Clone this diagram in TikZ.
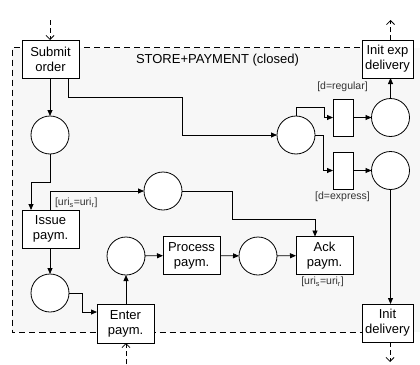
\documentclass[tikz,border=0pt]{standalone}
\usepackage{fontspec}
\setmainfont{Liberation Sans}
\usetikzlibrary{arrows.meta,calc}
\definecolor{netbg}{HTML}{F7F7F7}
\definecolor{guardgray}{HTML}{333333}
\begin{document}
\begin{tikzpicture}[x=1pt,y=-1pt,
  every node/.style={inner sep=0pt, outer sep=0pt},
  taskbox/.style={draw, fill=white, line width=0.8pt, minimum width=57pt,
    minimum height=38pt, align=center, font=\fontsize{13}{15}\selectfont},
  ioboxn/.style={taskbox, minimum width=51pt},
  guardbar/.style={draw, fill=white, line width=0.8pt, minimum width=20pt, minimum height=37pt},
  place/.style={circle, draw, fill=white, line width=0.8pt, minimum size=38pt},
  flow/.style={line width=0.8pt, -{Triangle[length=6pt,width=5pt]}},
  extflow/.style={line width=0.8pt, dash pattern=on 5pt off 3pt, -{Straight Barb[length=4pt,width=8pt]}},
  guard/.style={font=\fontsize{10.5}{12}\selectfont, text=guardgray},
]
\useasboundingbox (0,0) rectangle (420,364);

% module area and its dashed border
\fill[netbg] (12,47.5) rectangle (420,332);
\draw[line width=0.8pt, dash pattern=on 6pt off 4pt] (400,47.5) -- (12,47.5) -- (12,332) -- (400,332);
\node[anchor=west, font=\fontsize{13}{15}\selectfont] (title) at (136,60) {STORE+PAYMENT (closed)};

% transitions
\node[taskbox] (submit) at (50.5,59) {Submit\\order};
\node[taskbox] (issue) at (50.5,229) {Issue\\paym.};
\node[taskbox, minimum height=39pt] (enter) at (125.5,323.5) {Enter\\paym.};
\node[taskbox] (process) at (191.5,255.5) {Process\\paym.};
\node[taskbox] (ack) at (324.5,255.5) {Ack\\paym.};
\node[ioboxn] (initexp) at (387.5,59) {Init exp\\delivery};
\node[ioboxn] (initdel) at (387.5,323) {Init\\delivery};
\node[guardbar] (treg) at (343,117.5) {};
\node[guardbar] (texp) at (343,170.5) {};

% places
\node[place] (p1) at (50,135) {};
\node[place] (p2) at (50,293) {};
\node[place] (p3) at (163,191) {};
\node[place] (p4) at (126,256) {};
\node[place] (p5) at (258,256) {};
\node[place] (p6) at (296,135) {};
\node[place] (p7) at (390.5,117.5) {};
\node[place] (p8) at (390.5,170.5) {};

% guards
\node[guard] (greg) at (342.5,87) {[d=regular]};
\node[guard] (gexp) at (342.5,197) {[d=express]};
\node[guard, anchor=west] (gissue) at (55,203) {[uri\textsubscript{s}=uri\textsubscript{r}]};
\node[guard] (gack) at (322.5,282) {[uri\textsubscript{s}=uri\textsubscript{r}]};

% arcs
\draw[flow] (submit.south -| p1) -- (p1.north);
\draw[flow] ([xshift=18pt]submit.south) |- (182,97) |- (p6.west);
\draw[flow] (p6.north) |- (324,107) |- (treg.west);
\draw[flow] (p6.east) -- (323,135) |- (texp.west);
\draw[flow] (treg) -- (p7);
\draw[flow] (texp) -- (p8);
\draw[flow] (p7.north) -- (p7.north |- initexp.south);
\draw[flow] (p8.south) -- (p8.south |- initdel.north);
\draw[flow] (p1.south) -- (50,182) -| ([xshift=-19.5pt]issue.north);
\draw[flow] (issue.north) |- (p3.west);
\draw[flow] (p3.east) -- (232,191) |- (315,219) -- ([xshift=-9.5pt]ack.north);
\draw[flow] (issue.south -| p2) -- (p2.north);
\draw[flow] (p2.east) -| (82,312) -- ([yshift=11.5pt]enter.west);
\draw[flow] (enter.north -| p4) -- (p4.south);
\draw[flow] (p4) -- (process);
\draw[flow] (process) -- (p5);
\draw[flow] (p5) -- (ack);

% interface arcs
\coordinate (inorder) at (50,20);
\coordinate (outexp) at (390.5,20);
\coordinate (outdel) at (390,362);
\coordinate (inpay) at (126,364);
\draw[extflow] (inorder) -- (inorder |- submit.north);
\draw[extflow] (outexp |- initexp.north) -- (outexp);
\draw[extflow] (outdel |- initdel.south) -- (outdel);
\draw[extflow] (inpay) -- (inpay |- enter.south);
\end{tikzpicture}
\end{document}
